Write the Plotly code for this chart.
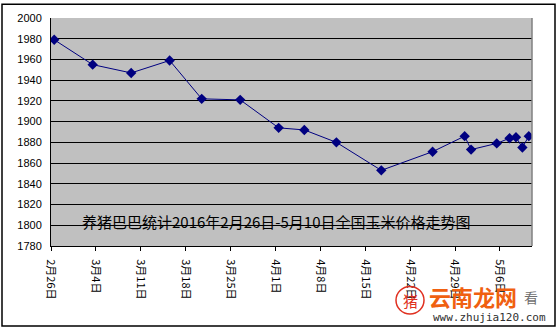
import plotly.graph_objects as go
import pandas as pd

# ---- data ----
dates = ["2016-02-26", "2016-03-03", "2016-03-09", "2016-03-15", "2016-03-20",
         "2016-03-26", "2016-04-01", "2016-04-05", "2016-04-10", "2016-04-17",
         "2016-04-25", "2016-04-30", "2016-05-01", "2016-05-05", "2016-05-07",
         "2016-05-08", "2016-05-09", "2016-05-10"]
prices = [1979, 1955, 1947, 1959, 1922, 1921, 1894, 1892, 1880, 1853,
          1871, 1886, 1873, 1879, 1884, 1885, 1875, 1886]
tick_dates = ["2016-02-26", "2016-03-04", "2016-03-11", "2016-03-18", "2016-03-25",
              "2016-04-01", "2016-04-08", "2016-04-15", "2016-04-22", "2016-04-29",
              "2016-05-06"]
tick_labels = ["2月26日", "3月4日", "3月11日", "3月18日", "3月25日", "4月1日",
               "4月8日", "4月15日", "4月22日", "4月29日", "5月6日"]
y_ticks = list(range(1780, 2001, 20))
title_text = "养猪巴巴统计2016年2月26日-5月10日全国玉米价格走势图"

# points sit in the middle of each day slot
x_pts = pd.to_datetime(dates) + pd.Timedelta(hours=12)

fig = go.Figure()
fig.add_trace(go.Scatter(
    x=x_pts, y=prices, mode="lines+markers",
    line=dict(color="#000080", width=1),
    marker=dict(symbol="diamond", size=8, color="#000080"),
    showlegend=False, hoverinfo="skip"))

fig.update_layout(
    width=557, height=329,
    margin=dict(l=51, r=25, t=15, b=83),
    paper_bgcolor="white", plot_bgcolor="#C0C0C0",
    font=dict(family="Liberation Sans, Arial", color="black"),
    xaxis=dict(
        type="date",
        range=["2016-02-26", "2016-05-11"],
        tickvals=pd.to_datetime(tick_dates), ticktext=tick_labels,
        tickangle=90, ticks="outside", ticklen=4, tickcolor="black",
        ticklabelstandoff=6,
        showgrid=False, zeroline=False,
        showline=True, linecolor="black", linewidth=1,
        tickfont=dict(family="Noto Sans CJK SC", size=11, color="black"),
    ),
    yaxis=dict(
        range=[1780, 2000], tickvals=y_ticks,
        showgrid=True, gridcolor="black", gridwidth=1,
        showline=True, linecolor="black", linewidth=1,
        zeroline=False, ticks="", ticklabelstandoff=6,
        tickfont=dict(family="Liberation Sans, Arial", size=11, color="black"),
    ),
)

def px(xp):
    return (xp - 51) / 481

def py(yp):
    return (246 - yp) / 231

# plot-area gray border on the right
fig.add_shape(type="line", xref="paper", yref="paper", x0=1, x1=1, y0=0, y1=1,
              line=dict(color="#808080", width=1.5))
# chart outer border
fig.add_shape(type="rect", xref="paper", yref="paper",
              x0=px(2), x1=px(555), y0=py(327), y1=py(1),
              line=dict(color="black", width=1.5), layer="below")

# in-chart caption
fig.add_annotation(text=title_text, xref="paper", yref="paper",
                   x=px(80), y=py(221),
                   xanchor="left", yanchor="middle", showarrow=False,
                   font=dict(family="Noto Sans CJK SC", size=15, color="black"))

# watermark
fig.add_shape(type="circle", xref="paper", yref="paper",
              x0=px(396), x1=px(424), y0=py(315), y1=py(287),
              line=dict(color="#E03020", width=1.5))
wm = [
    ("猪", 410, 301, "Noto Sans CJK SC", 15, "#E03020"),
    ("<b>云南龙网</b>", 473, 297, "Noto Sans CJK SC", 22, "#F06010"),
    ("看", 531, 298, "Noto Sans CJK SC", 14, "#707070"),
    ("www.zhujia120.com", 489, 318, "DejaVu Sans Mono", 11, "#303030"),
]
for t, xx, yy, fam, sz, col in wm:
    fig.add_annotation(text=t, xref="paper", yref="paper", x=px(xx), y=py(yy),
                       xanchor="center", yanchor="middle", showarrow=False,
                       font=dict(family=fam, size=sz, color=col))

fig.write_html("out.html")
